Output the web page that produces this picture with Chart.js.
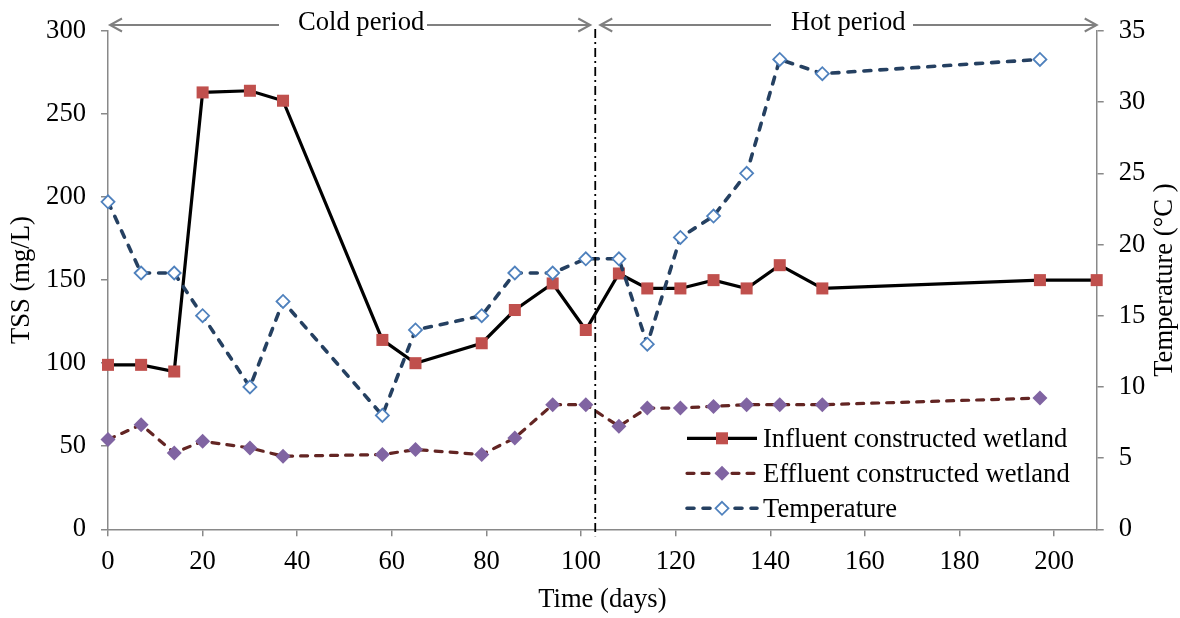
<!DOCTYPE html>
<html>
<head>
<meta charset="utf-8">
<script src="https://cdn.jsdelivr.net/npm/chart.js@4.4.1/dist/chart.umd.min.js"></script>
<style>
  html, body { margin: 0; padding: 0; background: #ffffff; }
  canvas { display: block; }
</style>
</head>
<body>
<canvas id="c" width="1180" height="618"></canvas>
<script>
// ---- data ----
const influentDays = [0, 7, 14, 20, 30, 37, 58, 65, 79, 86, 94, 101, 108, 114, 121, 128, 135, 142, 151, 197, 209];
const influentTSS  = [99, 99, 95, 263, 264, 258, 114, 100, 112, 132, 148, 120, 154, 145, 145, 150, 145, 159, 145, 150, 150];
const sampleDays   = [0, 7, 14, 20, 30, 37, 58, 65, 79, 86, 94, 101, 108, 114, 121, 128, 135, 142, 151, 197];
const effluentTSS  = [54, 63, 46, 53, 49, 44, 45, 48, 45, 55, 75, 75, 62, 73, 73, 74, 75, 75, 75, 79];
const temperature  = [23, 18, 18, 15, 10, 16, 8, 14, 15, 18, 18, 19, 19, 13, 20.5, 22, 25, 33, 32, 33];
const xTicks  = [0, 20, 40, 60, 80, 100, 120, 140, 160, 180, 200];
const xMax = 209;
const periodSplitDay = 103;
const seriesNames = ['Influent constructed wetland', 'Effluent constructed wetland', 'Temperature'];
const periodLabels = ['Cold period', 'Hot period'];
const xTitle = 'Time (days)';
const yTitle = 'TSS (mg/L)';
const y1Title = 'Temperature (°C )';

const FONT = 'Liberation Serif';
const FS = 26.6;
const AXIS_GRAY = '#898989';
const ARROW_GRAY = '#808080';
const C_INF_LINE = '#000000', C_INF_PT = '#C0504D';
const C_EFF_LINE = '#632523', C_EFF_PT = '#8064A2';
const C_TMP_LINE = '#254061', C_TMP_PT = '#4F81BD';
const DASH_EFF = [7, 8];
const DASH_TMP = [7, 9];

Chart.defaults.font.family = FONT;
Chart.defaults.font.size = FS;
Chart.defaults.color = '#000000';

function pts(xs, ys) { return xs.map((x, i) => ({ x: x, y: ys[i] })); }

function arrow(ctx, x1, x2, y) {
  ctx.beginPath();
  ctx.moveTo(x1, y); ctx.lineTo(x2, y); ctx.stroke();
  const dir = x2 > x1 ? 1 : -1;
  ctx.beginPath();
  ctx.moveTo(x2 - dir * 12, y - 6.5);
  ctx.lineTo(x2, y);
  ctx.lineTo(x2 - dir * 12, y + 6.5);
  ctx.stroke();
}

const extras = {
  id: 'extras',
  afterDraw(chart) {
    const { ctx, chartArea, scales } = chart;
    const vx = scales.x.getPixelForValue(periodSplitDay);
    ctx.save();
    // period separator
    ctx.strokeStyle = '#000000';
    ctx.lineWidth = 1.8;
    ctx.setLineDash([9, 4, 2, 4]);
    ctx.beginPath();
    ctx.moveTo(vx, chartArea.top - 2);
    ctx.lineTo(vx, chartArea.bottom + 7);
    ctx.stroke();
    ctx.setLineDash([]);

    // period arrows and labels
    ctx.strokeStyle = ARROW_GRAY;
    ctx.lineWidth = 2;
    ctx.lineCap = 'butt';
    ctx.lineJoin = 'miter';
    const ay = 25;
    arrow(ctx, 279, chartArea.left + 2, ay);
    arrow(ctx, 427, vx - 5, ay);
    arrow(ctx, 771, vx + 5, ay);
    arrow(ctx, 913, chartArea.right, ay);
    ctx.fillStyle = '#000000';
    ctx.font = FS + 'px "' + FONT + '"';
    ctx.textAlign = 'left';
    ctx.textBaseline = 'alphabetic';
    ctx.fillText(periodLabels[0], 298, 30);
    ctx.fillText(periodLabels[1], 791, 30);

    // right axis title (reads bottom to top)
    ctx.save();
    ctx.translate(1165, (chartArea.top + chartArea.bottom) / 2);
    ctx.rotate(-Math.PI / 2);
    ctx.textAlign = 'center';
    ctx.textBaseline = 'middle';
    ctx.fillText(y1Title, 0, 0);
    ctx.restore();

    // legend
    const lx1 = 687, lx2 = 757, lmx = 722, tx = 763;
    const rows = [438.3, 473.3, 508.3];
    ctx.lineCap = 'butt';
    ctx.strokeStyle = C_INF_LINE; ctx.lineWidth = 3.2; ctx.setLineDash([]);
    ctx.beginPath(); ctx.moveTo(lx1, rows[0]); ctx.lineTo(lx2, rows[0]); ctx.stroke();
    ctx.fillStyle = C_INF_PT; ctx.fillRect(lmx - 6, rows[0] - 6, 12, 12);
    ctx.strokeStyle = C_EFF_LINE; ctx.lineWidth = 3.2; ctx.lineCap = 'round'; ctx.setLineDash(DASH_EFF);
    ctx.beginPath(); ctx.moveTo(lx1, rows[1]); ctx.lineTo(lx2, rows[1]); ctx.stroke();
    ctx.setLineDash([]);
    ctx.fillStyle = C_EFF_PT;
    ctx.beginPath(); ctx.moveTo(lmx, rows[1] - 7.5); ctx.lineTo(lmx + 7.5, rows[1]); ctx.lineTo(lmx, rows[1] + 7.5); ctx.lineTo(lmx - 7.5, rows[1]); ctx.closePath(); ctx.fill();
    ctx.strokeStyle = C_TMP_LINE; ctx.lineWidth = 3.6; ctx.setLineDash(DASH_TMP);
    ctx.beginPath(); ctx.moveTo(lx1, rows[2]); ctx.lineTo(lx2, rows[2]); ctx.stroke();
    ctx.setLineDash([]);
    ctx.fillStyle = '#ffffff'; ctx.strokeStyle = C_TMP_PT; ctx.lineWidth = 1.8;
    ctx.beginPath(); ctx.moveTo(lmx, rows[2] - 6.5); ctx.lineTo(lmx + 6.5, rows[2]); ctx.lineTo(lmx, rows[2] + 6.5); ctx.lineTo(lmx - 6.5, rows[2]); ctx.closePath(); ctx.fill(); ctx.stroke();
    ctx.fillStyle = '#000000';
    ctx.textAlign = 'left'; ctx.textBaseline = 'alphabetic';
    ctx.fillText(seriesNames[0], tx, 446.5);
    ctx.fillText(seriesNames[1], tx, 481.5);
    ctx.fillText(seriesNames[2], tx, 516.5);
    ctx.restore();
  }
};

const axisGrid = { display: true, drawOnChartArea: false, drawTicks: true, tickLength: 7, color: AXIS_GRAY, lineWidth: 1.5 };
const axisBorder = { display: true, color: AXIS_GRAY, width: 1.5 };

new Chart(document.getElementById('c'), {
  type: 'line',
  data: {
    datasets: [
      {
        label: seriesNames[0], data: pts(influentDays, influentTSS), yAxisID: 'y', order: 2,
        borderColor: C_INF_LINE, borderWidth: 3.2, tension: 0, fill: false, clip: false,
        pointStyle: 'rect', pointRadius: 8.5, pointBackgroundColor: C_INF_PT, pointBorderWidth: 0, pointBorderColor: C_INF_PT
      },
      {
        label: seriesNames[1], data: pts(sampleDays, effluentTSS), yAxisID: 'y', order: 1,
        borderColor: C_EFF_LINE, borderWidth: 3.2, borderDash: DASH_EFF, borderCapStyle: 'round', tension: 0, fill: false, clip: false,
        pointStyle: 'rectRot', pointRadius: 7.5, pointBackgroundColor: C_EFF_PT, pointBorderWidth: 0, pointBorderColor: C_EFF_PT
      },
      {
        label: seriesNames[2], data: pts(sampleDays, temperature), yAxisID: 'y1', order: 0,
        borderColor: C_TMP_LINE, borderWidth: 3.6, borderDash: DASH_TMP, borderCapStyle: 'round', tension: 0, fill: false, clip: false,
        pointStyle: 'rectRot', pointRadius: 6.5, pointBackgroundColor: '#ffffff', pointBorderWidth: 1.8, pointBorderColor: C_TMP_PT
      }
    ]
  },
  options: {
    responsive: false,
    animation: false,
    devicePixelRatio: 1,
    layout: { padding: { top: 30.7, left: 0, right: 0, bottom: 0 } },
    plugins: { legend: { display: false }, tooltip: { enabled: false } },
    scales: {
      x: {
        type: 'linear', position: 'bottom', min: 0, max: xMax,
        grid: axisGrid, border: axisBorder,
        ticks: { padding: 10, color: '#000', font: { size: FS }, includeBounds: false },
        afterBuildTicks: (s) => { s.ticks = xTicks.map(v => ({ value: v })); },
        afterFit: (s) => { s.height = 88.7; },
        title: { display: true, text: xTitle, color: '#000', font: { size: FS }, padding: { top: 0, bottom: 2 } }
      },
      y: {
        type: 'linear', position: 'left', min: 0, max: 300,
        grid: axisGrid, border: axisBorder,
        ticks: { stepSize: 50, padding: 15, color: '#000', font: { size: FS } },
        afterFit: (s) => { s.width = 108; },
        title: { display: true, text: yTitle, color: '#000', font: { size: FS }, padding: { top: 6, bottom: 0 } }
      },
      y1: {
        type: 'linear', position: 'right', min: 0, max: 35,
        grid: axisGrid, border: axisBorder,
        ticks: { stepSize: 5, padding: 15, color: '#000', font: { size: FS } },
        afterFit: (s) => { s.width = 83.3; },
        title: { display: false }
      }
    }
  },
  plugins: [extras]
});
</script>
</body>
</html>
